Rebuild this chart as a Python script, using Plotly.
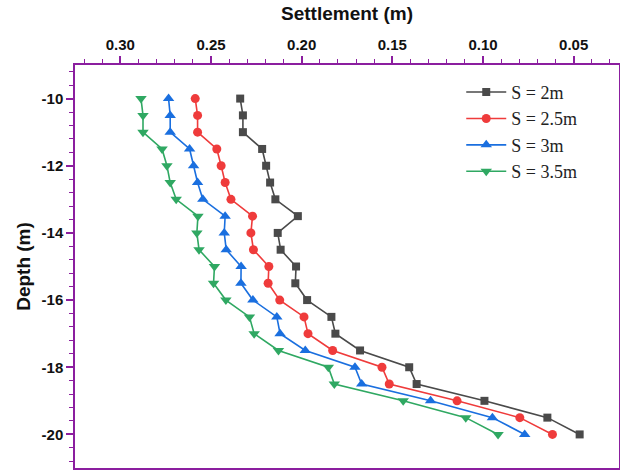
import plotly.graph_objects as go

depth = [-10, -10.5, -11, -11.5, -12, -12.5, -13, -13.5, -14, -14.5, -15,
         -15.5, -16, -16.5, -17, -17.5, -18, -18.5, -19, -19.5, -20]

s_2m = [0.2339, 0.2324, 0.2324, 0.2218, 0.2196, 0.2174, 0.2145, 0.2021, 0.2132, 0.2116, 0.2031,
        0.2035, 0.1970, 0.1836, 0.1814, 0.1678, 0.1407, 0.1366, 0.0992, 0.0645, 0.0467]
s_2_5m = [0.2587, 0.2574, 0.2574, 0.2468, 0.2444, 0.2422, 0.2390, 0.2271, 0.2280, 0.2266, 0.2181,
          0.2185, 0.2121, 0.1987, 0.1965, 0.1829, 0.1557, 0.1517, 0.1143, 0.0797, 0.0617]
s_3m = [0.2734, 0.2725, 0.2725, 0.2618, 0.2596, 0.2574, 0.2545, 0.2422, 0.2427, 0.2416, 0.2334,
        0.2335, 0.2269, 0.2137, 0.2119, 0.1980, 0.1706, 0.1669, 0.1289, 0.0948, 0.0770]
s_3_5m = [0.2886, 0.2875, 0.2875, 0.2770, 0.2743, 0.2725, 0.2692, 0.2572, 0.2578, 0.2566, 0.2481,
          0.2486, 0.2418, 0.2288, 0.2262, 0.2128, 0.1853, 0.1820, 0.1440, 0.1095, 0.0917]

names = ["S = 2m", "S = 2.5m", "S = 3m", "S = 3.5m"]
series = [s_2m, s_2_5m, s_3m, s_3_5m]
colors = ["#4a4a4a", "#ef3b3b", "#1a6fdf", "#2fa862"]
symbols = ["square", "circle", "triangle-up", "triangle-down"]
sizes = [8, 9, 10, 10]

x_ticks = [0.30, 0.25, 0.20, 0.15, 0.10, 0.05]
y_ticks = [-10, -12, -14, -16, -18, -20]

AX = "#8B1E9F"

fig = go.Figure()
for nm, vals, c, sym, sz in zip(names, series, colors, symbols, sizes):
    fig.add_trace(go.Scatter(
        x=vals, y=depth, name=nm, mode="lines+markers",
        line=dict(color=c, width=1.6),
        marker=dict(symbol=sym, size=sz, color=c),
    ))

fig.update_layout(
    width=620, height=470,
    margin=dict(l=75, r=1, t=65, b=2, autoexpand=False),
    plot_bgcolor="white", paper_bgcolor="white",
    showlegend=True,
    legend=dict(
        x=0.71, y=0.978, xanchor="left", yanchor="top",
        font=dict(family="Liberation Serif", size=18, color="#222"),
        bgcolor="rgba(0,0,0,0)", tracegroupgap=0, itemwidth=40,
    ),
    font=dict(family="Liberation Sans", color="#111"),
)

fig.update_xaxes(
    side="top", range=[0.325, 0.025], automargin=False,
    tickvals=x_ticks, ticktext=["%.2f" % v for v in x_ticks],
    ticks="outside", ticklen=7, tickwidth=1.5, tickcolor=AX,
    minor=dict(dtick=0.01, tick0=0, ticks="outside", ticklen=4, tickwidth=1.2, tickcolor=AX),
    showline=True, linecolor=AX, linewidth=1.5, mirror="ticks",
    showgrid=False, zeroline=False,
    tickfont=dict(family="Liberation Sans", size=15, color="#111", weight="bold"),
    title=dict(text="<b>Settlement (m)</b>", font=dict(family="Liberation Sans", size=19, color="#111"), standoff=11),
)
fig.update_yaxes(
    range=[-21, -9], automargin=False,
    tickvals=y_ticks, ticktext=[str(v) for v in y_ticks],
    ticks="outside", ticklen=7, tickwidth=1.5, tickcolor=AX,
    minor=dict(dtick=0.4, tick0=0, ticks="outside", ticklen=4, tickwidth=1.2, tickcolor=AX),
    showline=True, linecolor=AX, linewidth=1.5, mirror=True,
    showgrid=False, zeroline=False,
    tickfont=dict(family="Liberation Sans", size=15, color="#111", weight="bold"),
    title=dict(text="<b>Depth (m)</b>", font=dict(family="Liberation Sans", size=19, color="#111"), standoff=6),
)

fig.write_html("out.html", config={"displayModeBar": False},
               post_script="document.body.style.margin='0';")
